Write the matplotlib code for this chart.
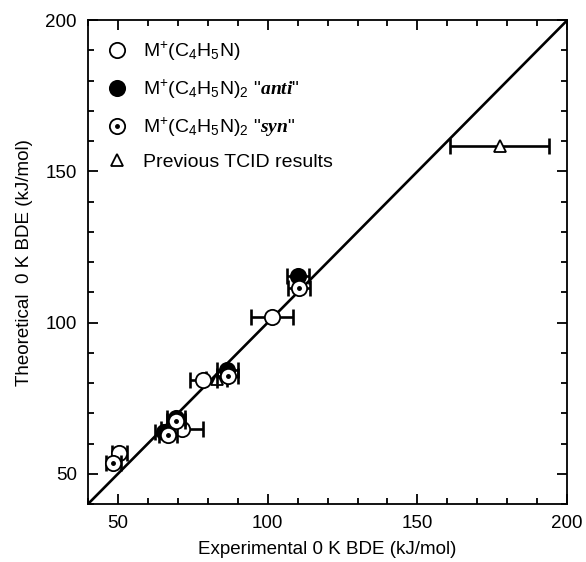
import matplotlib
matplotlib.use("Agg")
import matplotlib.pyplot as plt
from matplotlib.lines import Line2D
from matplotlib.legend_handler import HandlerTuple
from matplotlib.ticker import MultipleLocator

plt.rcParams['font.family'] = ['Liberation Sans', 'DejaVu Sans']
plt.rcParams['mathtext.fontset'] = 'custom'
plt.rcParams['mathtext.rm'] = 'Liberation Sans'
plt.rcParams['mathtext.it'] = 'Liberation Sans:italic'
plt.rcParams['mathtext.bf'] = 'Liberation Sans:bold'
plt.rcParams['mathtext.bfit'] = 'Liberation Serif:italic:bold'

# Data
mono_x = [50.5, 71.5, 78.5, 101.5]
mono_y = [57.0, 65.0, 81.0, 102.0]
mono_xerr = [2.5, 7.0, 4.5, 7.0]

anti_x = [65.5, 69.5, 86.5, 110.2]
anti_y = [64.0, 68.5, 84.5, 115.5]
anti_xerr = [3.0, 3.0, 3.5, 3.7]

syn_x = [48.5, 66.8, 69.5, 86.7, 110.5]
syn_y = [53.5, 62.8, 67.5, 82.5, 111.5]
syn_xerr = [2.5, 3.0, 3.0, 3.5, 3.7]

tcid_x = [83.0, 177.5]
tcid_y = [81.5, 158.5]
tcid_xerr = [3.5, 16.5]

diag = [40, 200]

labels = [r'M$^{+}$(C$_4$H$_5$N)',
          r'M$^{+}$(C$_4$H$_5$N)$_2$ "$\mathbfit{anti}$"',
          r'M$^{+}$(C$_4$H$_5$N)$_2$ "$\mathbfit{syn}$"',
          'Previous TCID results']

fig = plt.figure(figsize=(5.86, 5.62), dpi=100)
ax = fig.add_axes([0.150, 0.103, 0.818, 0.861])

ax.plot(diag, diag, color='black', lw=1.9, zorder=1)

ms = 11
eb = dict(fmt='none', ecolor='black', elinewidth=1.9, capsize=6, capthick=1.9)

ax.errorbar(tcid_x, tcid_y, xerr=tcid_xerr, zorder=2, **eb)
ax.plot(tcid_x, tcid_y, '^', ms=9, mfc='white', mec='black', mew=1.3, ls='none', zorder=3)

ax.errorbar(mono_x, mono_y, xerr=mono_xerr, zorder=2, **eb)
ax.plot(mono_x, mono_y, 'o', ms=ms, mfc='white', mec='black', mew=1.3, ls='none', zorder=3)

ax.errorbar(anti_x, anti_y, xerr=anti_xerr, zorder=4, **eb)
ax.plot(anti_x, anti_y, 'o', ms=ms, mfc='black', mec='black', mew=1.3, ls='none', zorder=5)

ax.errorbar(syn_x, syn_y, xerr=syn_xerr, zorder=6, **eb)
ax.plot(syn_x, syn_y, 'o', ms=ms, mfc='white', mec='black', mew=1.3, ls='none', zorder=7)
ax.plot(syn_x, syn_y, 'o', ms=2.5, mfc='black', mec='black', ls='none', zorder=8)

ax.set_xlim(40, 200)
ax.set_ylim(40, 200)
ax.xaxis.set_major_locator(MultipleLocator(50))
ax.xaxis.set_minor_locator(MultipleLocator(10))
ax.yaxis.set_major_locator(MultipleLocator(50))
ax.yaxis.set_minor_locator(MultipleLocator(10))
ax.tick_params(which='both', direction='in', top=True, right=True, width=1.3)
ax.tick_params(which='major', length=7, labelsize=13.5, pad=8)
ax.tick_params(which='minor', length=4)
for s in ax.spines.values():
    s.set_linewidth(1.3)

ax.set_xlabel('Experimental 0 K BDE (kJ/mol)', fontsize=13.5, labelpad=6)
ax.set_ylabel('Theoretical  0 K BDE (kJ/mol)', fontsize=13.5, labelpad=9)

h_mono = Line2D([], [], marker='o', ms=ms, mfc='white', mec='black', mew=1.3, ls='none')
h_anti = Line2D([], [], marker='o', ms=ms, mfc='black', mec='black', mew=1.3, ls='none')
h_syn1 = Line2D([], [], marker='o', ms=ms, mfc='white', mec='black', mew=1.3, ls='none')
h_syn2 = Line2D([], [], marker='o', ms=2.5, mfc='black', mec='black', ls='none')
h_tcid = Line2D([], [], marker='^', ms=9, mfc='white', mec='black', mew=1.3, ls='none')

leg = ax.legend([h_mono, h_anti, (h_syn1, h_syn2), h_tcid], labels,
                handler_map={tuple: HandlerTuple(ndivide=1)},
                loc='upper left', frameon=False, fontsize=14,
                labelspacing=0.75, handletextpad=0.85, handlelength=1.0,
                borderaxespad=0.6, bbox_to_anchor=(0.0, 1.0))

fig.savefig('out.png', dpi=100)
